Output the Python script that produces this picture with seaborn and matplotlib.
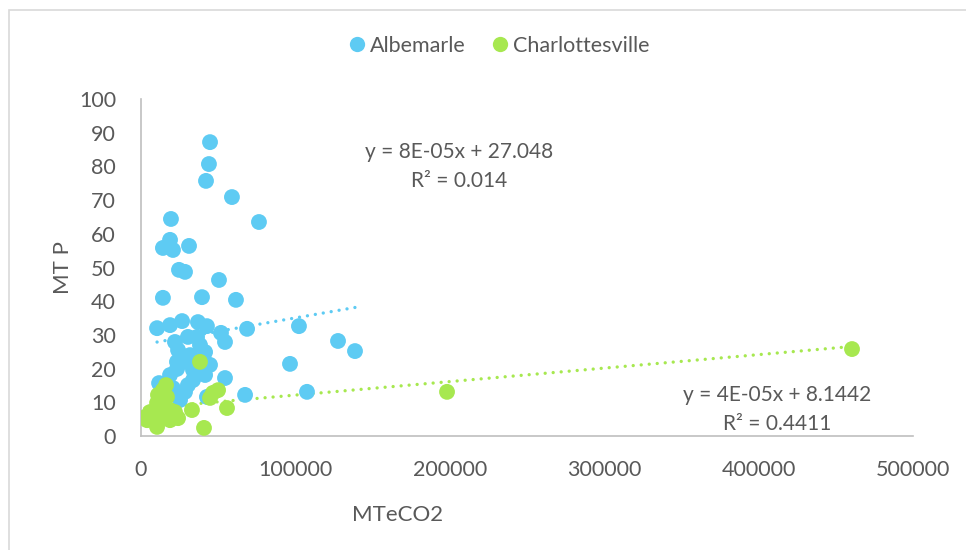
import matplotlib
matplotlib.use("Agg")
import matplotlib.pyplot as plt
import seaborn as sns
import pandas as pd
from matplotlib.lines import Line2D
from matplotlib.patches import Rectangle

# Emissions (MTeCO2) vs. MT P for each locality
albemarle_x = [44700, 44000, 42100, 58900, 76400, 19400, 18800, 14200, 20700, 31100,
               24600, 28500, 50500, 14200, 39500, 61500, 10400, 18800, 26600, 42700,
               51800, 54400, 68700, 30400, 36300, 22000, 24000, 41500, 23300, 23300,
               33700, 41500, 54400, 11700, 20700, 28500, 42700, 67400, 96500, 102300,
               127600, 138600, 107500, 33700, 25300, 31700, 28500, 38200, 35000, 44700,
               30400, 18800, 15500, 36900]
albemarle_y = [87.2, 80.7, 75.7, 70.9, 63.5, 64.4, 58.2, 55.8, 55.2, 56.4,
               49.3, 48.7, 46.3, 41.0, 41.2, 40.4, 32.0, 32.9, 34.1, 32.6,
               30.6, 27.9, 31.8, 29.4, 29.4, 27.9, 25.5, 24.9, 22.0, 19.9,
               19.6, 18.1, 17.2, 15.7, 14.2, 13.1, 11.6, 12.2, 21.4, 32.6,
               28.2, 25.2, 13.1, 16.6, 10.7, 24.0, 22.0, 27.0, 22.6, 21.1,
               15.1, 18.1, 12.8, 33.8]

charlottesville_x = [460500, 198200, 38200, 40800, 49900, 44700, 55700, 33000, 14200, 16800,
                     10400, 5800, 3900, 10400, 18800, 24000, 15500, 12300, 18800, 7800,
                     13600, 22000, 16200, 46600, 2600, 11000]
charlottesville_y = [25.8, 13.1, 22.0, 2.4, 13.6, 11.3, 8.3, 7.7, 13.6, 11.6,
                     9.8, 7.1, 4.7, 2.7, 4.7, 5.3, 9.2, 7.7, 7.7, 6.2,
                     5.3, 7.1, 15.1, 12.8, 5.6, 12.2]

# Linear trendline coefficients (slope, intercept) and R²
albemarle_fit = (8e-05, 27.048, 0.014)
charlottesville_fit = (4e-05, 8.1442, 0.4411)

x_ticks = [0, 100000, 200000, 300000, 400000, 500000]
y_ticks = [0, 10, 20, 30, 40, 50, 60, 70, 80, 90, 100]

series = ["Albemarle", "Charlottesville"]
colors = {"Albemarle": "#5ECBF3", "Charlottesville": "#A7E850"}
text_color = "#595959"
axis_color = "#BFBFBF"

df = pd.DataFrame({
    "MTeCO2": albemarle_x + charlottesville_x,
    "MT P": albemarle_y + charlottesville_y,
    "Locality": ["Albemarle"] * len(albemarle_x) + ["Charlottesville"] * len(charlottesville_x),
})

sns.set_theme(style="white")
plt.rcParams["font.family"] = ["Lato", "DejaVu Sans"]

W, H = 966, 550
fig = plt.figure(figsize=(W / 100, H / 100), dpi=100)
ax = fig.add_axes([141 / W, 1 - 436 / H, 772 / W, 337 / H])

# Light frame around the chart area
fig.patches.append(Rectangle((9 / W, -0.1), 1.2, 1 - 10 / H + 0.1,
                             transform=fig.transFigure, fill=False,
                             edgecolor="#D9D9D9", linewidth=1.2, zorder=0))

# Dotted linear trendlines spanning each series' x-range
for name, xs, fit in [("Albemarle", albemarle_x, albemarle_fit),
                      ("Charlottesville", charlottesville_x, charlottesville_fit)]:
    x0, x1 = min(xs), max(xs)
    m, b, _ = fit
    ax.plot([x0, x1], [m * x0 + b, m * x1 + b], color=colors[name],
            linewidth=2.4, linestyle=(0, (0.01, 2.4)), dash_capstyle="round", zorder=2)

sns.scatterplot(data=df, x="MTeCO2", y="MT P", hue="Locality", hue_order=series,
                palette=colors, s=130, edgecolor="none", alpha=1.0, legend=False,
                ax=ax, zorder=3)

ax.set_xlim(0, 500000)
ax.set_ylim(0, 100)
ax.set_xticks(x_ticks)
ax.set_xticklabels([str(v) for v in x_ticks])
ax.set_yticks(y_ticks)
ax.set_yticklabels([str(v) for v in y_ticks])
ax.tick_params(axis="both", length=0, labelsize=15.5, colors=text_color)
ax.tick_params(axis="x", pad=17)
ax.tick_params(axis="y", pad=18)

for side in ["top", "right"]:
    ax.spines[side].set_visible(False)
for side in ["left", "bottom"]:
    ax.spines[side].set_color(axis_color)
    ax.spines[side].set_linewidth(1.2)

ax.set_xlabel("")
ax.set_ylabel("")
fig.text(398 / W, 1 - 515 / H, "MTeCO2", ha="center", va="center",
         fontsize=16, color=text_color)
fig.text(63 / W, 1 - 268 / H, "MT P", ha="center", va="center", rotation=90,
         fontsize=16, color=text_color)

# Trendline equations
eq_size = 15
ax.text((459 - 141) / 772 * 500000, (436 - 152) / 3.37,
        "y = 8E-05x + 27.048", ha="center", va="center", fontsize=eq_size, color=text_color)
ax.text((459 - 141) / 772 * 500000, (436 - 181) / 3.37,
        "R² = 0.014", ha="center", va="center", fontsize=eq_size, color=text_color)
ax.text((777 - 141) / 772 * 500000, (436 - 395) / 3.37,
        "y = 4E-05x + 8.1442", ha="center", va="center", fontsize=eq_size, color=text_color)
ax.text((777 - 141) / 772 * 500000, (436 - 424) / 3.37,
        "R² = 0.4411", ha="center", va="center", fontsize=eq_size, color=text_color)

handles = [Line2D([], [], marker="o", linestyle="none", markersize=11,
                  markerfacecolor=colors[n], markeredgecolor="none") for n in series]
fig.legend(handles, series, loc="center", bbox_to_anchor=(498 / W, 1 - 46 / H),
           ncol=2, frameon=False, fontsize=15.5, labelcolor=text_color,
           handletextpad=0.1, columnspacing=1.1, handlelength=1.0)

fig.savefig("out.png", dpi=100)
